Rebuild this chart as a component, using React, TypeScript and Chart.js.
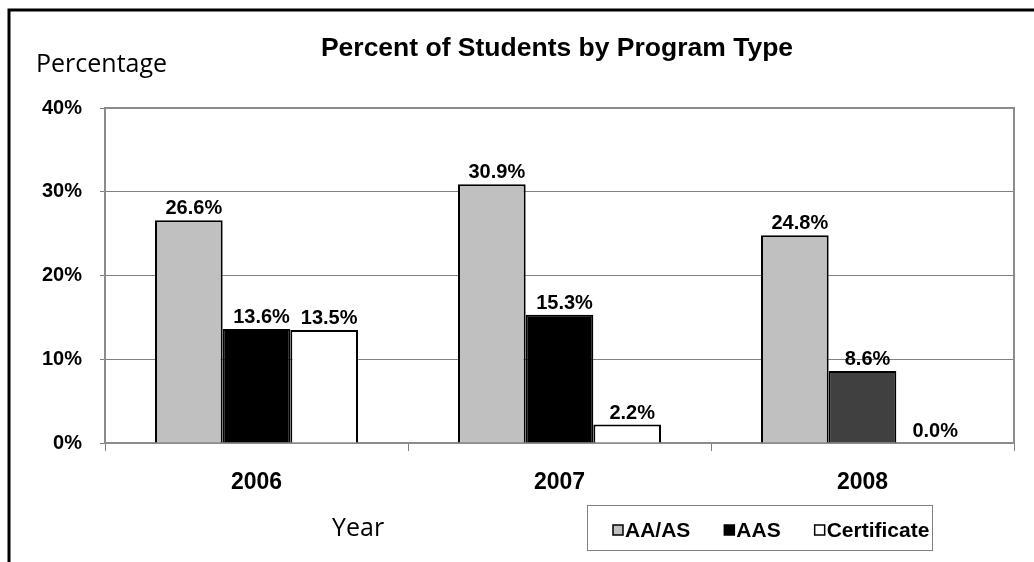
import { useEffect, useRef } from 'react';
import { Chart, registerables } from 'chart.js';

Chart.register(...registerables);

const years = ['2006', '2007', '2008'];
const seriesNames = ['AA/AS', 'AAS', 'Certificate'];
const aaasValues = [26.6, 30.9, 24.8];
const aasValues = [13.6, 15.3, 8.6];
const certificateValues = [13.5, 2.2, 0.0];
const yMax = 40;
const yStep = 10;
const chartTitle = 'Percent of Students by Program Type';
const yTitle = 'Percentage';
const xTitle = 'Year';

const aaasColor = '#C0C0C0';
const aasColors = ['#000000', '#000000', '#404040'];
const certColor = '#FFFFFF';

const ARIAL = '"Liberation Sans", Arial, sans-serif';
const CALIBRI = '"Open Sans", "Noto Sans", sans-serif';

const overlay = {
  id: 'overlay',
  beforeDraw(chart: any) {
    const ctx = chart.ctx;
    ctx.save();
    ctx.fillStyle = '#FFFFFF';
    ctx.fillRect(0, 0, chart.width, chart.height);
    ctx.restore();
  },
  beforeDatasetsDraw(chart: any) {
    const { ctx, chartArea: a } = chart;
    ctx.save();
    ctx.strokeStyle = '#8C8C8C';
    ctx.lineWidth = 2;
    ctx.strokeRect(a.left, a.top, a.right - a.left, a.bottom - a.top);
    ctx.restore();
  },
  afterDatasetsDraw(chart: any) {
    const ctx = chart.ctx;
    ctx.save();
    ctx.font = `bold 20px ${ARIAL}`;
    ctx.fillStyle = '#000000';
    ctx.textAlign = 'center';
    ctx.textBaseline = 'alphabetic';
    chart.data.datasets.forEach((ds: any, i: number) => {
      const meta = chart.getDatasetMeta(i);
      meta.data.forEach((el: any, j: number) => {
        const v = ds.data[j] as number;
        ctx.fillText(v.toFixed(1) + '%', el.x + 5, el.y - 6);
      });
    });
    ctx.restore();
  },
  afterDraw(chart: any) {
    const ctx = chart.ctx;
    ctx.save();
    // outer frame
    ctx.strokeStyle = '#000000';
    ctx.lineWidth = 3;
    ctx.beginPath();
    ctx.moveTo(9, chart.height + 5);
    ctx.lineTo(9, 10);
    ctx.lineTo(chart.width + 5, 10);
    ctx.stroke();

    // title
    ctx.fillStyle = '#000000';
    ctx.font = `bold 26.5px ${ARIAL}`;
    ctx.textAlign = 'center';
    ctx.textBaseline = 'alphabetic';
    ctx.fillText(chartTitle, 557, 56);

    // axis titles
    ctx.font = `25px ${CALIBRI}`;
    ctx.textAlign = 'left';
    ctx.fillText(yTitle, 36, 72);
    ctx.fillText(xTitle, 332, 536);

    // legend
    const bx = 587, by = 505, bw = 345, bh = 45;
    ctx.strokeStyle = '#808080';
    ctx.lineWidth = 1;
    ctx.strokeRect(bx + 0.5, by + 0.5, bw, bh);
    ctx.font = `bold 21px ${ARIAL}`;
    let x = 613;
    const cy = 530;
    chart.data.datasets.forEach((ds: any) => {
      const col = Array.isArray(ds.backgroundColor) ? ds.backgroundColor[0] : ds.backgroundColor;
      ctx.fillStyle = col;
      ctx.fillRect(x, cy - 5, 10, 10);
      ctx.strokeStyle = '#000000';
      ctx.lineWidth = 1.5;
      ctx.strokeRect(x, cy - 5, 10, 10);
      ctx.fillStyle = '#000000';
      ctx.textBaseline = 'middle';
      ctx.fillText(ds.label, x + 12, cy + 1);
      x += 12 + ctx.measureText(ds.label).width + 34;
    });
    ctx.restore();
  },
};

export default function App() {
  const ref = useRef<HTMLCanvasElement | null>(null);

  useEffect(() => {
    if (!ref.current) return;
    const chart = new Chart(ref.current, {
      type: 'bar',
      data: {
        labels: years,
        datasets: [
          {
            label: seriesNames[0],
            data: aaasValues,
            backgroundColor: aaasColor,
            borderColor: '#000000',
            borderWidth: 2,
          },
          {
            label: seriesNames[1],
            data: aasValues,
            backgroundColor: aasColors,
            borderColor: '#000000',
            borderWidth: 2,
          },
          {
            label: seriesNames[2],
            data: certificateValues,
            backgroundColor: certColor,
            borderColor: '#000000',
            borderWidth: 2,
          },
        ],
      },
      options: {
        responsive: false,
        animation: false,
        devicePixelRatio: 1,
        layout: { padding: { top: 108, left: 0, right: 20, bottom: 0 } },
        datasets: {
          bar: { categoryPercentage: 0.67, barPercentage: 1 },
        },
        plugins: {
          legend: { display: false },
          title: { display: false },
          tooltip: { enabled: false },
        },
        scales: {
          x: {
            afterFit: (s: any) => {
              s.height = 119;
            },
            grid: {
              display: true,
              drawOnChartArea: false,
              drawTicks: true,
              tickLength: 8,
              offset: true,
              color: '#808080',
            },
            border: { display: true, color: '#303030', width: 2 },
            ticks: {
              color: '#000000',
              font: { family: ARIAL, size: 23, weight: 'bold' },
              padding: 18,
            },
          },
          y: {
            min: 0,
            max: yMax,
            afterFit: (s: any) => {
              s.width = 105;
            },
            grid: {
              color: '#808080',
              lineWidth: 1,
              drawTicks: true,
              tickLength: 5,
            },
            border: { display: true, color: '#808080', width: 1 },
            ticks: {
              stepSize: yStep,
              color: '#000000',
              font: { family: ARIAL, size: 20, weight: 'bold' },
              padding: 18,
              callback: (v: any) => `${v}%`,
            },
          },
        },
      },
      plugins: [overlay],
    });
    return () => chart.destroy();
  }, []);

  return (
    <div style={{ position: 'fixed', left: 0, top: 0, width: 1034, height: 562 }}>
      <canvas ref={ref} width={1034} height={562} style={{ display: 'block', width: 1034, height: 562 }} />
    </div>
  );
}
